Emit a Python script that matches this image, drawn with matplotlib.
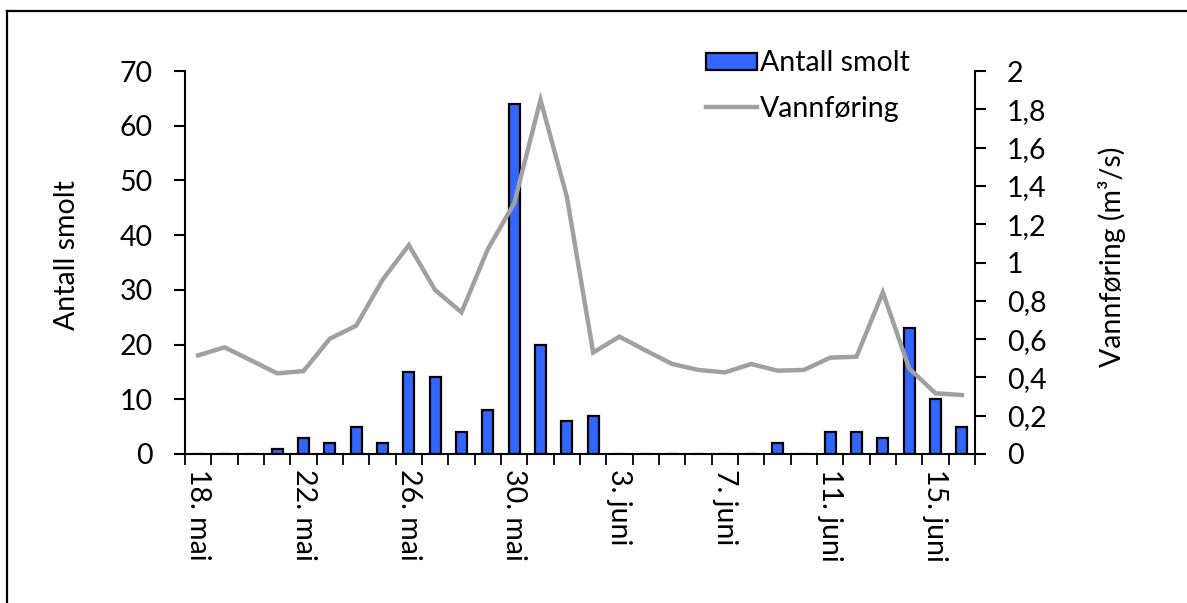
import matplotlib
matplotlib.use("Agg")
import matplotlib.pyplot as plt
from matplotlib.lines import Line2D
import numpy as np

plt.rcParams['font.family'] = ['Lato', 'DejaVu Sans']

dates = ["18. mai", "19. mai", "20. mai", "21. mai", "22. mai", "23. mai", "24. mai",
         "25. mai", "26. mai", "27. mai", "28. mai", "29. mai", "30. mai", "31. mai",
         "1. juni", "2. juni", "3. juni", "4. juni", "5. juni", "6. juni", "7. juni",
         "8. juni", "9. juni", "10. juni", "11. juni", "12. juni", "13. juni",
         "14. juni", "15. juni", "16. juni"]
smolt = [0, 0, 0, 1, 3, 2, 5, 2, 15, 14, 4, 8, 64, 20, 6, 7, 0, 0, 0, 0,
         0, 0, 2, 0, 4, 4, 3, 23, 10, 5]
flow = [0.515, 0.557, 0.49, 0.421, 0.433, 0.602, 0.67, 0.909, 1.091, 0.856,
        0.74, 1.07, 1.309, 1.849, 1.344, 0.53, 0.613, 0.54, 0.47, 0.439,
        0.426, 0.47, 0.435, 0.439, 0.503, 0.508, 0.844, 0.447, 0.317, 0.308]
left_ticks = [0, 10, 20, 30, 40, 50, 60, 70]
right_ticks = [0, 0.2, 0.4, 0.6, 0.8, 1.0, 1.2, 1.4, 1.6, 1.8, 2.0]
right_labels = ["0", "0,2", "0,4", "0,6", "0,8", "1", "1,2", "1,4", "1,6", "1,8", "2"]

W, H = 1187, 603
fig = plt.figure(figsize=(W / 100, H / 100), dpi=100)
ax = fig.add_axes([185 / W, 1 - 454 / H, (975 - 185) / W, (454 - 71) / H])
ax2 = ax.twinx()

x = np.arange(len(dates))
fs = 20.5
bar_color = '#3366FF'
line_color = '#A0A0A0'

ax.bar(x, smolt, width=0.42, color=bar_color, edgecolor='black', linewidth=1.6, zorder=2)
ax2.plot(x, flow, color=line_color, linewidth=3.2, solid_joinstyle='miter', zorder=3)

ax.set_xlim(-0.5, len(dates) - 0.5)
ax.set_ylim(0, 70)
ax2.set_ylim(0, 2)

# x ticks at category boundaries, labels at every 4th category
ax.set_xticks(np.arange(-0.5, len(dates), 1.0))
ax.set_xticklabels([])
ax.set_xticks(x[::4], minor=True)
ax.set_xticklabels([dates[i] for i in x[::4]], minor=True, rotation=-90,
                   fontsize=fs, va='top', ha='center')
ax.tick_params(axis='x', which='major', direction='out', length=8, width=1.3)
ax.tick_params(axis='x', which='minor', length=0, pad=11)

ax.set_yticks(left_ticks)
ax.set_yticklabels([str(t) for t in left_ticks], fontsize=fs)
ax.tick_params(axis='y', direction='out', length=8, width=1.5, pad=15)

ax2.set_yticks(right_ticks)
ax2.set_yticklabels(right_labels, fontsize=fs)
ax2.tick_params(axis='y', direction='out', length=8, width=1.5, pad=15)

for a in (ax, ax2):
    a.spines['top'].set_visible(False)
    for s in ('left', 'right', 'bottom'):
        a.spines[s].set_linewidth(1.5)
ax.spines['right'].set_visible(False)
ax2.spines['left'].set_visible(False)
ax2.spines['bottom'].set_visible(False)

ax.set_ylabel("Antall smolt", fontsize=fs)
ax.yaxis.set_label_coords(-0.133, 0.52)
ax2.set_ylabel("Vannføring (m³/s)", fontsize=fs, rotation=90)
ax2.yaxis.set_label_coords(1.156, 0.515)

handles = [plt.Rectangle((0, 0), 1, 1, facecolor=bar_color, edgecolor='black', linewidth=1.6),
           Line2D([0], [0], color=line_color, linewidth=3.2)]
fig.legend(handles, ["Antall smolt", "Vannføring"], loc='upper left',
           bbox_to_anchor=(692 / W, 1 - 36 / H), frameon=False, fontsize=fs,
           handlelength=1.8, handleheight=0.55, handletextpad=0.1, labelspacing=0.68,
           borderpad=0)

# outer border (left and top visible)
fig.add_artist(Line2D([7 / W, 7 / W], [0, 1 - 11 / H], transform=fig.transFigure,
                      color='black', linewidth=1.6))
fig.add_artist(Line2D([7 / W, 1], [1 - 11 / H, 1 - 11 / H], transform=fig.transFigure,
                      color='black', linewidth=1.6))

fig.savefig("out.png", dpi=100)
